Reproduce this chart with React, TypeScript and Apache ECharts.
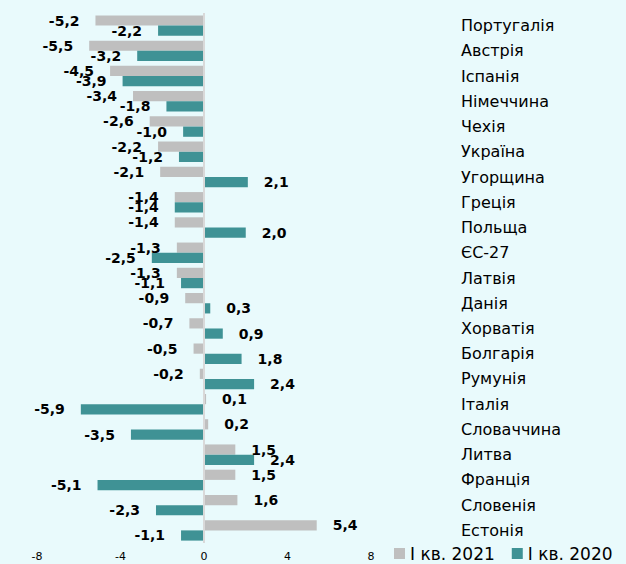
import React, { useEffect, useRef } from "react";
import * as echarts from "echarts";

const categories = [
  "Португалія", "Австрія", "Іспанія", "Німеччина", "Чехія", "Україна", "Угорщина",
  "Греція", "Польща", "ЄС-27", "Латвія", "Данія", "Хорватія", "Болгарія", "Румунія",
  "Італія", "Словаччина", "Литва", "Франція", "Словенія", "Естонія",
];
const q1_2021 = [-5.2, -5.5, -4.5, -3.4, -2.6, -2.2, -2.1, -1.4, -1.4, -1.3, -1.3, -0.9, -0.7, -0.5, -0.2, 0.1, 0.2, 1.5, 1.5, 1.6, 5.4];
const q1_2020 = [-2.2, -3.2, -3.9, -1.8, -1.0, -1.2, 2.1, -1.4, 2.0, -2.5, -1.1, 0.3, 0.9, 1.8, 2.4, -5.9, -3.5, 2.4, -5.1, -2.3, -1.1];
const seriesNames = ["І кв. 2021", "І кв. 2020"];

const FONT = "DejaVu Sans";

export default function App() {
  const ref = useRef<HTMLDivElement>(null);
  useEffect(() => {
    if (!ref.current) return;
    const chart = echarts.init(ref.current, undefined, { renderer: "svg" });
    const label = {
      show: true,
      distance: 16,
      fontFamily: FONT,
      fontWeight: "bold" as const,
      fontSize: 14,
      color: "#000",
      formatter: (p: any) => Number(p.value).toFixed(1).replace(".", ","),
    };
    const mkData = (vals: number[]) =>
      vals.map((v) => ({
        value: v,
        label: { position: v < 0 ? "left" : "right" },
      }));
    chart.setOption({
      animation: false,
      backgroundColor: "#E9FAFC",
      grid: { left: 37, right: 255, top: 13, bottom: 21, containLabel: false },
      legend: {
        left: 394,
        top: 545,
        padding: 0,
        itemWidth: 11,
        itemHeight: 11,
        itemGap: 17,
        icon: "rect",
        textStyle: { fontFamily: FONT, fontSize: 17, color: "#000" },
        data: seriesNames,
      },
      xAxis: {
        type: "value",
        min: -8,
        max: 8,
        interval: 4,
        splitLine: { show: false },
        axisLine: { show: false },
        axisTick: { show: false },
        axisLabel: { fontFamily: FONT, fontSize: 11, color: "#000", margin: 8 },
      },
      yAxis: {
        type: "category",
        inverse: true,
        position: "right",
        data: categories,
        axisLine: { show: false, onZero: false },
        axisTick: { show: false },
        splitLine: { show: false },
        axisLabel: { fontFamily: FONT, fontSize: 16, color: "#000", margin: 90, align: "left" },
      },
      series: [
        {
          name: seriesNames[0],
          type: "bar",
          data: mkData(q1_2021),
          itemStyle: { color: "#BFBFBF" },
          barGap: "0%",
          barCategoryGap: "19%",
          label,
          markLine: {
            silent: true,
            symbol: "none",
            label: { show: false },
            lineStyle: { color: "#D9D9D9", width: 2, type: "solid" },
            data: [{ xAxis: 0 }],
          },
        },
        {
          name: seriesNames[1],
          type: "bar",
          data: mkData(q1_2020),
          itemStyle: { color: "#3F9295" },
          barGap: "0%",
          barCategoryGap: "19%",
          label,
        },
      ],
    });
    return () => chart.dispose();
  }, []);
  return (
    <div
      ref={ref}
      style={{ position: "fixed", left: 0, top: 0, width: 626, height: 564 }}
    />
  );
}
